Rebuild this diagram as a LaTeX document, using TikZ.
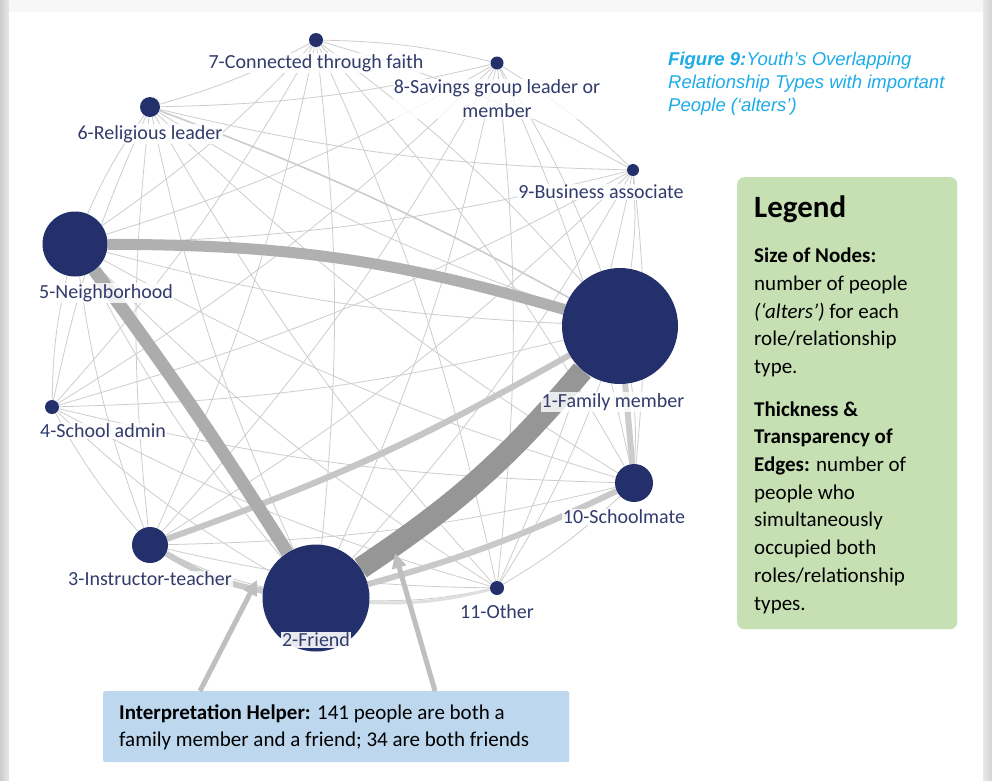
\documentclass[tikz,border=0pt]{standalone}
\usepackage{fontspec}
\setmainfont{Carlito}
\newfontfamily\capfont{Liberation Sans}
\usetikzlibrary{arrows.meta}
\definecolor{navy}{RGB}{35,48,108}
\definecolor{lblc}{RGB}{50,60,108}
\definecolor{capc}{RGB}{28,172,232}
\definecolor{legc}{RGB}{198,224,180}
\definecolor{helpc}{RGB}{189,215,238}
\definecolor{thinc}{RGB}{205,205,205}
\pgfdeclarelayer{bg}
\pgfdeclarelayer{edges}
\pgfsetlayers{bg,edges,main}
\tikzset{
  vert/.style={circle,fill=navy,inner sep=0pt},
  lbl/.style={font=\fontsize{20}{22}\selectfont,text=lblc,fill=white,fill opacity=0.8,text opacity=1,inner sep=1pt},
  thinedge/.style={draw=thinc,line width=0.8pt},
  heavy/.style={line width=#1},
  helperarrow/.style={draw=gray!50,line width=5pt,-{Triangle[length=15pt,width=14pt]}},
  legendbox/.style={fill=legc,rounded corners=7pt,inner sep=0pt},
  helpbox/.style={fill=helpc,rounded corners=2pt,inner sep=0pt},
  bodytext/.style={font=\fontsize{21}{27.7}\selectfont,align=left,inner sep=0pt,text=black}
}
\begin{document}
\begin{tikzpicture}[x=1pt,y=-1pt]
\useasboundingbox (0,0) rectangle (992,780);
\begin{pgfonlayer}{bg}
\fill[gray!6] (0,0) rectangle (992,780);
\shade[left color=gray!40,right color=gray!18] (0,0) rectangle (9,780);
\shade[left color=gray!18,right color=gray!35] (983,0) rectangle (992,780);
\fill[white] (9,12) rectangle (983,780);
\end{pgfonlayer}

% vertices
\node[vert,minimum size=116] (n1) at (620,326) {};
\node[vert,minimum size=107] (n2) at (316,598) {};
\node[vert,minimum size=36] (n3) at (150,545) {};
\node[vert,minimum size=14] (n4) at (52,407) {};
\node[vert,minimum size=65] (n5) at (75,244) {};
\node[vert,minimum size=20] (n6) at (150,107) {};
\node[vert,minimum size=14] (n7) at (316,40) {};
\node[vert,minimum size=13] (n8) at (497,63) {};
\node[vert,minimum size=12] (n9) at (633,170) {};
\node[vert,minimum size=38] (n10) at (634,483) {};
\node[vert,minimum size=14] (n11) at (497,588) {};

% edges
\begin{pgfonlayer}{edges}
\foreach \a [count=\i] in {n7,n8,n9,n1,n10,n11,n2,n3,n4,n5,n6} {
  \foreach \b [count=\j] in {n7,n8,n9,n1,n10,n11,n2,n3,n4,n5,n6} {
    \ifnum\j>\i \draw[thinedge] (\a) to[bend left=6] (\b); \fi
  }
}
\draw[heavy=1.6pt,draw=gray!40] (n6) to[bend left=4] (n1);
\draw[heavy=3pt,draw=gray!25] (n2) to[bend right=8] (n11);
\draw[heavy=6pt,draw=gray!45] (n3) to[bend right=5] (n1);
\draw[heavy=6pt,draw=gray!42] (n3) to[bend right=10] (n2);
\draw[heavy=6pt,draw=gray!40] (n10) to (n1);
\draw[heavy=6pt,draw=gray!42] (n10) to[bend left=5] (n2);
\draw[heavy=11pt,draw=gray!62] (n5) to[bend left=8] (n1);
\draw[heavy=13pt,draw=gray!65] (n5) to[bend left=2] (n2);
\draw[heavy=22pt,draw=gray!82] (n2) to[bend right=8] (n1);
\end{pgfonlayer}

% labels
\node[lbl] (l7) at (316,63) {7-Connected through faith};
\node[lbl,align=center,font=\fontsize{20}{24}\selectfont] (l8) at (497,99) {8-Savings group leader or\\member};
\node[lbl] (l6) at (150,134) {6-Religious leader};
\node[lbl] (l9) at (601,192) {9-Business associate};
\node[lbl] (l5) at (106,293) {5-Neighborhood};
\node[lbl] (l1) at (613,402) {1-Family member};
\node[lbl] (l4) at (103,431) {4-School admin};
\node[lbl] (l10) at (624,517) {10-Schoolmate};
\node[lbl] (l3) at (150,579) {3-Instructor-teacher};
\node[lbl] (l11) at (497,612) {11-Other};
\node[lbl,fill opacity=0.9] (l2) at (316,640) {2-Friend};

% caption
\node[anchor=north west,align=left,text=capc,inner sep=0pt,font=\capfont\itshape\fontsize{18.5}{23}\selectfont] (cap) at (668,51.5)
  {\textbf{Figure 9:}Youth’s Overlapping\\Relationship Types with important\\People (‘alters’)};

% legend
\node[legendbox,anchor=north west,minimum width=220,minimum height=452] (leg) at (737,177) {};
\node[bodytext,anchor=north west] (legt) at (754,196)
  {{\fontsize{31}{33}\selectfont\bfseries Legend}\\[17pt]
   \textbf{Size of Nodes:}\\
   number of people\\
   \textit{(‘alters’)} for each\\
   role/relationship\\
   type.\\[15pt]
   \textbf{Thickness \&}\\
   \textbf{Transparency of}\\
   \textbf{Edges:} number of\\
   people who\\
   simultaneously\\
   occupied both\\
   roles/relationship\\
   types.};

% helper
\node[helpbox,anchor=north west,minimum width=466,minimum height=71] (help) at (103,691) {};
\node[bodytext,anchor=north west,font=\fontsize{21}{27}\selectfont] (helpt) at (119,705)
  {\textbf{Interpretation Helper:} 141 people are both a\\
   family member and a friend; 34 are both friends};

\coordinate (a1s) at (200,691);
\coordinate (a1t) at (257,580);
\coordinate (a2s) at (435,691);
\coordinate (a2t) at (395,553);
\draw[helperarrow] (a1s) -- (a1t);
\draw[helperarrow] (a2s) -- (a2t);
\end{tikzpicture}
\end{document}
